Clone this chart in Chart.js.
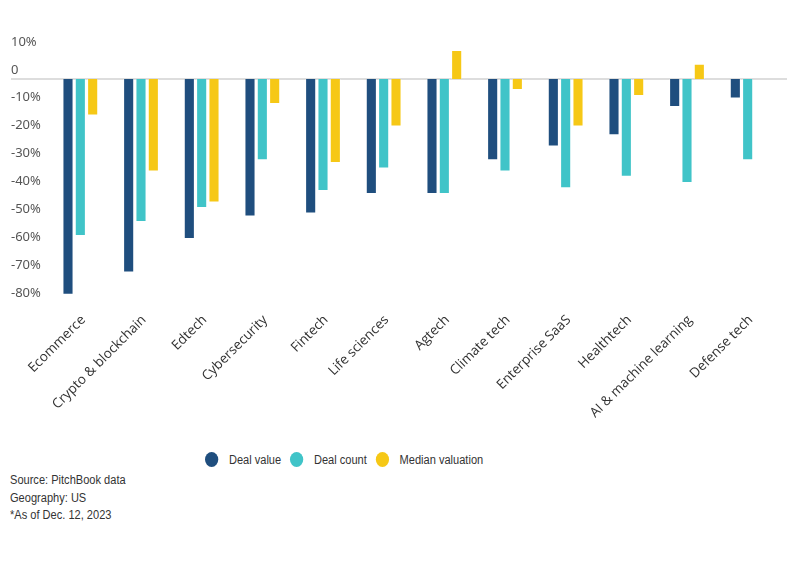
<!DOCTYPE html>
<html>
<head>
<meta charset="utf-8">
<script src="https://cdn.jsdelivr.net/npm/chart.js@4"></script>
<style>
  body{margin:0;background:#fff;width:800px;height:562px;position:relative;overflow:hidden;font-family:"Liberation Sans",Arial,sans-serif;}
  #wrap{position:absolute;left:0;top:0;width:800px;height:440px;}
  #legend{position:absolute;left:205px;top:452px;display:flex;align-items:center;font-size:12.5px;color:#333;transform:scaleX(0.885);transform-origin:0 50%;white-space:nowrap;}
  #legend .item{display:flex;align-items:center;margin-right:10px;}
  #legend .dot{width:15px;height:15px;border-radius:50%;margin-right:12px;}
  #notes{position:absolute;left:10px;top:472px;font-size:12.5px;line-height:17.5px;color:#333;transform:scaleX(0.885);transform-origin:0 0;white-space:nowrap;}
</style>
</head>
<body>
<div id="wrap"><canvas id="chart"></canvas></div>
<div id="legend"></div>
<div id="notes">Source: PitchBook data<br>Geography: US<br>*As of Dec. 12, 2023</div>
<script>
const sectors = ['Ecommerce','Crypto & blockchain','Edtech','Cybersecurity','Fintech','Life sciences','Agtech','Climate tech','Enterprise SaaS','Healthtech','AI & machine learning','Defense tech'];
const dealValue = [-77.4,-69.4,-57.4,-49.3,-48.3,-41.3,-41.3,-29.2,-24.2,-20.2,-10.1,-7.0];
const dealCount = [-56.3,-51.3,-46.3,-29.2,-40.2,-32.1,-41.3,-33.2,-39.2,-35.1,-37.3,-29.2];
const medianValuation = [-13.1,-33.2,-44.3,-9.0,-30.2,-17.1,10.4,-4.0,-17.1,-6.1,5.4,null];
const seriesNames = ['Deal value','Deal count','Median valuation'];
const seriesColors = ['#1f4e7e','#40c4c8','#f6c816'];

// grey zero line running under the whole plot, wider than the chart area
const zeroLine = {
  id:'zeroLine',
  beforeDatasetsDraw(chart){
    const y = chart.scales.y.getPixelForValue(0);
    const ctx = chart.ctx;
    ctx.save();
    ctx.strokeStyle = '#dddddd';
    ctx.lineWidth = 2;
    ctx.beginPath();
    ctx.moveTo(11, y);
    ctx.lineTo(787, y);
    ctx.stroke();
    ctx.restore();
  }
};

const allSeries = [dealValue, dealCount, medianValuation];
const chart = new Chart(document.getElementById('chart'), {
  type:'bar',
  data:{
    labels: sectors,
    datasets: allSeries.map((d,i)=>({
      label: seriesNames[i],
      data: d,
      backgroundColor: seriesColors[i],
      borderColor: 'rgba(255,255,255,0.35)',
      borderWidth: 1,
      barPercentage: 0.9,
      categoryPercentage: 0.61
    }))
  },
  options:{
    responsive:true,
    maintainAspectRatio:false,
    animation:false,
    layout:{ padding:{ left:11, right:22, top:51, bottom:0 } },
    plugins:{ legend:{ display:false }, tooltip:{ enabled:false } },
    scales:{
      x:{
        grid:{ display:false, drawTicks:false },
        border:{ display:false },
        afterFit: s => { s.height = 138; },
        ticks:{
          minRotation:45, maxRotation:45, autoSkip:false, padding:10, labelOffset:3,
          color:'#333', font:{ family:'"Open Sans", sans-serif', size:13.5 }
        }
      },
      y:{
        min:-80, max:10,
        grid:{ display:false, drawTicks:false },
        border:{ display:false },
        afterFit: s => { s.width = 39; },
        ticks:{
          stepSize:10, labelOffset:-9, crossAlign:'far', padding:0,
          color:'#555', font:{ family:'"Noto Sans", sans-serif', size:13 },
          callback: v => v === 0 ? '0' : v + '%'
        }
      }
    }
  },
  plugins:[zeroLine]
});

const legend = document.getElementById('legend');
seriesNames.forEach((name,i)=>{
  const item = document.createElement('div');
  item.className = 'item';
  item.innerHTML = `<span class="dot" style="background:${seriesColors[i]}"></span>${name}`;
  legend.appendChild(item);
});
</script>
</body>
</html>
